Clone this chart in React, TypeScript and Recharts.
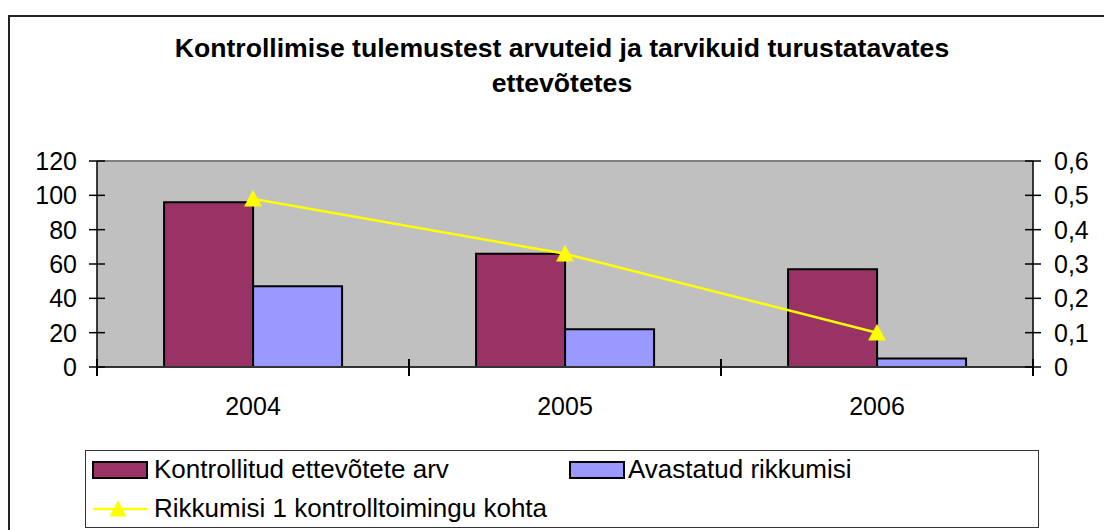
import { ComposedChart, Bar, Line, XAxis, YAxis, CartesianGrid, ReferenceLine, Legend } from "recharts"

// values
const years = ["2004", "2005", "2006"]
const checkedCompanies = [96, 66, 57]
const violationsFound = [47, 22, 5]
const violationsPerCheck = [0.49, 0.33, 0.1]
const leftTicks = [0, 20, 40, 60, 80, 100, 120]
const rightTicks = [0, 0.1, 0.2, 0.3, 0.4, 0.5, 0.6]

const titleLines = ["Kontrollimise tulemustest arvuteid ja tarvikuid turustatavates", "ettevõtetes"]
const seriesNames = ["Kontrollitud ettevõtete arv", "Avastatud rikkumisi", "Rikkumisi 1 kontrolltoimingu kohta"]

const data = years.map((year, i) => ({
  year,
  checked: checkedCompanies[i],
  found: violationsFound[i],
  perCheck: violationsPerCheck[i],
}))

const FONT = '"Liberation Sans", Arial, Helvetica, sans-serif'
const RED = "#993366"
const BLUE = "#9999FF"
const YELLOW = "#FFFF00"

const fmtComma = (v: number) => (v === 0 ? "0" : v.toFixed(1).replace(".", ","))

const LeftTick = (props: any) => {
  const { x, y, payload } = props
  const axisX = x + 20
  return (
    <g>
      <line x1={axisX} x2={axisX + 8} y1={y} y2={y} stroke="#000" strokeWidth={1.5} />
      <text x={x} y={y} dy="0.355em" textAnchor="end" fontSize={25} fill="#000" fontFamily={FONT}>
        {payload.value}
      </text>
    </g>
  )
}

const RightTick = (props: any) => {
  const { x, y, payload } = props
  const axisX = x - 21
  return (
    <g>
      <line x1={axisX - 8} x2={axisX} y1={y} y2={y} stroke="#000" strokeWidth={1.5} />
      <text x={x} y={y} dy="0.355em" textAnchor="start" fontSize={25} fill="#000" fontFamily={FONT}>
        {fmtComma(payload.value)}
      </text>
    </g>
  )
}

// category labels, with Excel-like tick marks on the category boundaries
const CategoryTick = (props: any) => {
  const { x, y, payload, index, visibleTicksCount, width } = props
  const axisY = y - 30
  const count = visibleTicksCount || years.length
  const half = (typeof width === "number" && width > 100 ? width : 936) / count / 2
  return (
    <g>
      <line x1={x - half} x2={x - half} y1={axisY - 8} y2={axisY + 9} stroke="#000" strokeWidth={2} />
      {index === count - 1 && (
        <line x1={x + half} x2={x + half} y1={axisY - 8} y2={axisY + 9} stroke="#000" strokeWidth={2} />
      )}
      <text x={x} y={y} dy="0.71em" textAnchor="middle" fontSize={25} fill="#000" fontFamily={FONT}>
        {payload.value}
      </text>
    </g>
  )
}

const TriangleDot = (props: any) => {
  const { cx, cy, index } = props
  if (cx == null || cy == null) return <g key={index} />
  return (
    <polygon
      key={index}
      points={`${cx},${cy - 8.5} ${cx + 8.5},${cy + 7.5} ${cx - 8.5},${cy + 7.5}`}
      fill={YELLOW}
      stroke={YELLOW}
      strokeWidth={0.5}
    />
  )
}

const LegendBox = () => (
  <svg width={955} height={79} style={{ display: "block" }}>
    <rect x={0.5} y={0.5} width={953} height={77} fill="#fff" stroke="#333" />
    <rect x={8} y={12} width={54} height={16} fill={RED} stroke="#000" strokeWidth={2} />
    <text x={69} y={27.5} fontSize={26} fontFamily={FONT} fill="#000">{seriesNames[0]}</text>
    <rect x={485} y={12} width={54} height={16} fill={BLUE} stroke="#000" strokeWidth={2} />
    <text x={543} y={27.5} fontSize={26} fontFamily={FONT} fill="#000">{seriesNames[1]}</text>
    <line x1={8} x2={62} y1={59} y2={59} stroke={YELLOW} strokeWidth={2.5} />
    <polygon points="33,50.5 41.5,66.5 24.5,66.5" fill={YELLOW} />
    <text x={69} y={67} fontSize={26} fontFamily={FONT} fill="#000">{seriesNames[2]}</text>
  </svg>
)

export default function App() {
  return (
    <div style={{ position: "absolute", left: 0, top: 0, width: 1104, height: 530, overflow: "hidden", background: "#fff" }}>
      <div
        style={{
          position: "absolute",
          left: 8,
          top: 15,
          width: 1200,
          height: 700,
          borderTop: "2px solid #222",
          borderLeft: "2px solid #222",
          boxSizing: "border-box",
        }}
      />
      <div
        style={{
          position: "absolute",
          left: 10,
          top: 31,
          width: 1104,
          textAlign: "center",
          fontFamily: FONT,
          fontWeight: "bold",
          fontSize: 26.6,
          lineHeight: "34.6px",
          color: "#000",
        }}
      >
        {titleLines.map((t) => (
          <div key={t}>{t}</div>
        ))}
      </div>
      <div style={{ position: "absolute", left: 0, top: 0 }}>
        <ComposedChart
          width={1104}
          height={530}
          data={data}
          margin={{ top: 161, right: 0, bottom: 133, left: 0 }}
          barCategoryGap="21.5%"
          barGap={0}
        >
          <CartesianGrid horizontal={false} vertical={false} fill="#C0C0C0" />
          <ReferenceLine y={120} stroke="#808080" strokeWidth={2} />
          <XAxis
            dataKey="year"
            height={30}
            tickSize={8}
            tickMargin={22}
            tickLine={false}
            axisLine={{ stroke: "#333", strokeWidth: 2 }}
            tick={<CategoryTick />}
            interval={0}
          />
          <YAxis
            width={97}
            domain={[0, 120]}
            ticks={leftTicks}
            interval={0}
            tickSize={8}
            tickMargin={12}
            tickLine={{ stroke: "#000", strokeWidth: 1.5 }}
            axisLine={{ stroke: "#000", strokeWidth: 1.5 }}
            tick={<LeftTick />}
          />
          <YAxis
            yAxisId="right"
            orientation="right"
            width={71}
            domain={[0, 0.6]}
            ticks={rightTicks}
            interval={0}
            tickSize={8}
            tickMargin={13}
            tickLine={{ stroke: "#000", strokeWidth: 1.5 }}
            axisLine={{ stroke: "#000", strokeWidth: 1.5 }}
            tick={<RightTick />}
          />
          <Legend
            layout="horizontal"
            verticalAlign="middle"
            align="center"
            content={<LegendBox />}
            wrapperStyle={{ left: 85, top: 450, width: 955, height: 79 }}
          />
          <Bar dataKey="checked" name={seriesNames[0]} fill={RED} stroke="#000" strokeWidth={2} isAnimationActive={false} />
          <Bar dataKey="found" name={seriesNames[1]} fill={BLUE} stroke="#000" strokeWidth={2} isAnimationActive={false} />
          <Line
            yAxisId="right"
            type="linear"
            dataKey="perCheck"
            name={seriesNames[2]}
            stroke={YELLOW}
            strokeWidth={2.5}
            dot={<TriangleDot />}
            activeDot={false}
            isAnimationActive={false}
          />
        </ComposedChart>
      </div>
    </div>
  )
}
